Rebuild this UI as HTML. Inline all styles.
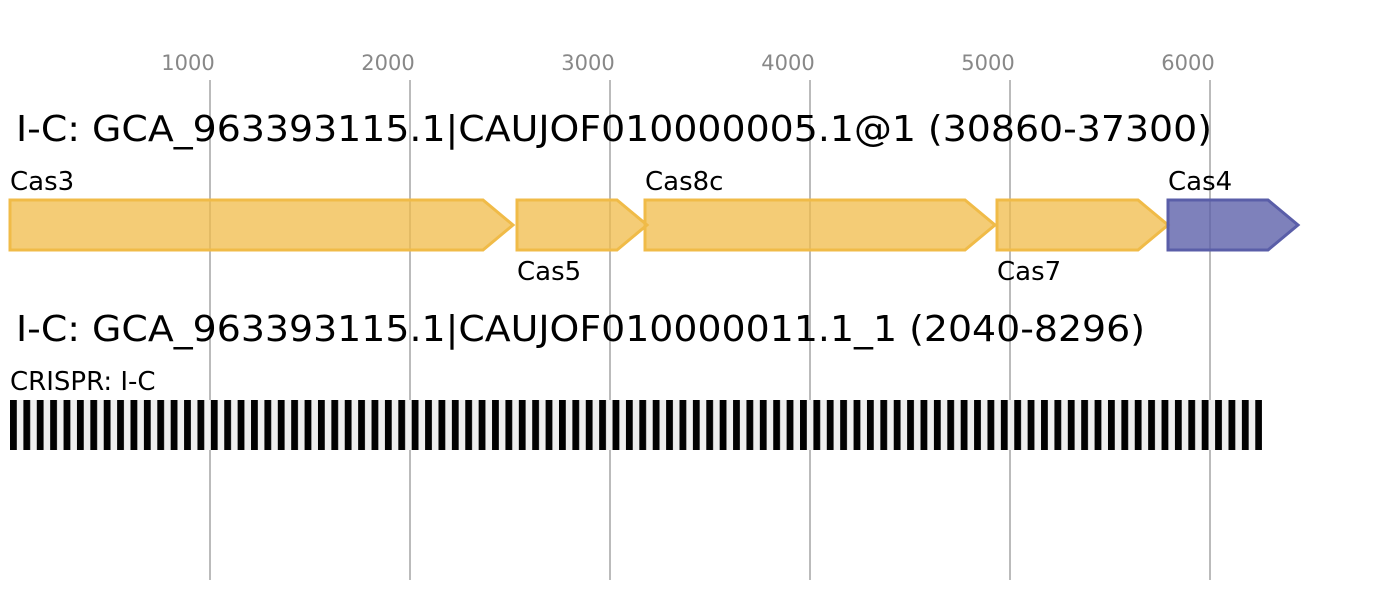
<!DOCTYPE html>
<html><head><meta charset="utf-8"><style>body{margin:0;background:#fff}svg{display:block}</style></head><body>
<svg width="1388" height="600" xmlns="http://www.w3.org/2000/svg" font-family="DejaVu Sans, Liberation Sans, sans-serif">
<defs>
<pattern id="cr" x="10" y="0" width="13.39" height="600" patternUnits="userSpaceOnUse">
<rect x="0" y="0" width="13.39" height="600" fill="#eeeeee"/>
<rect x="0" y="0" width="6.8" height="600" fill="#000"/>
</pattern>
</defs>
<g stroke="#bbb" stroke-width="2">
<line x1="210" y1="80" x2="210" y2="580"/><line x1="410" y1="80" x2="410" y2="580"/>
<line x1="610" y1="80" x2="610" y2="580"/><line x1="810" y1="80" x2="810" y2="580"/>
<line x1="1010" y1="80" x2="1010" y2="580"/><line x1="1210" y1="80" x2="1210" y2="580"/>
</g>
<g fill="#888" font-size="21" text-anchor="middle">
<text x="188" y="70">1000</text><text x="388" y="70">2000</text><text x="588" y="70">3000</text>
<text x="788" y="70">4000</text><text x="988" y="70">5000</text><text x="1188" y="70">6000</text>
</g>
<text x="16" y="141" font-size="36" textLength="1196" lengthAdjust="spacingAndGlyphs">I-C: GCA_963393115.1|CAUJOF010000005.1@1 (30860-37300)</text>
<text x="16" y="341" font-size="36" textLength="1129" lengthAdjust="spacingAndGlyphs">I-C: GCA_963393115.1|CAUJOF010000011.1_1 (2040-8296)</text>
<g fill="#f0bb48" fill-opacity="0.75" stroke="#f0bb48" stroke-width="3">
<polygon points="10,200 483,200 513,225 483,250 10,250"/>
<polygon points="517,200 617,200 647,225 617,250 517,250"/>
<polygon points="645,200 965,200 995,225 965,250 645,250"/>
<polygon points="997,200 1138,200 1168,225 1138,250 997,250"/>
</g>
<polygon points="1168,200 1268,200 1298,225 1268,250 1168,250" fill="#5a5ea8" fill-opacity="0.78" stroke="#5a5ea8" stroke-width="3"/>
<g font-size="26" fill="#000">
<text x="10" y="190">Cas3</text>
<text x="517" y="280">Cas5</text>
<text x="645" y="190">Cas8c</text>
<text x="997" y="280">Cas7</text>
<text x="1168" y="190">Cas4</text>
<text x="10" y="390">CRISPR: I-C</text>
</g>
<rect x="10" y="400" width="1252" height="50" fill="url(#cr)"/>
</svg>
</body></html>
